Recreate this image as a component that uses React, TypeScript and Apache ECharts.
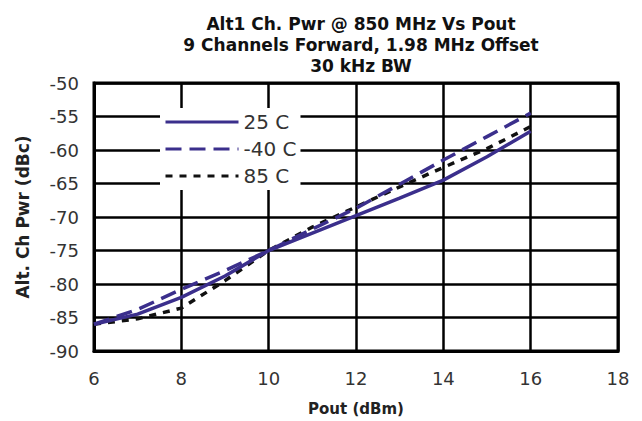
import React, { useEffect, useRef } from "react";
import * as echarts from "echarts";

const titleLines = [
  "Alt1 Ch. Pwr @ 850 MHz Vs Pout",
  "9 Channels Forward, 1.98 MHz Offset",
  "30 kHz BW",
];
const xAxisName = "Pout (dBm)";
const yAxisName = "Alt. Ch Pwr (dBc)";
const seriesNames = ["25 C", "-40 C", "85 C"];

const poutDbm = [6, 7, 8, 9, 10, 11, 12, 13, 14, 15, 16];
const pwr25C = [-86, -84.5, -82, -78.8, -75, -72.4, -69.8, -67.2, -64.5, -61, -57.2];
const pwrM40C = [-86, -83.8, -80.8, -78, -75, -71.8, -68.7, -65.1, -61.5, -58, -54.5];
const pwr85C = [-86, -85.2, -83.6, -79.5, -75, -71.5, -68.5, -65.5, -62.6, -59.8, -56.5];

const FONT = "DejaVu Sans";
const BLUE = "#3b2f8c";

export default function App() {
  const ref = useRef<HTMLDivElement>(null);

  useEffect(() => {
    if (!ref.current) return;
    const chart = echarts.init(ref.current, undefined, { renderer: "svg" });
    const pair = (ys: number[]) => poutDbm.map((x, i) => [x, ys[i]]);

    chart.setOption({
      animation: false,
      backgroundColor: "#fff",
      title: {
        text: titleLines.join("\n"),
        left: 356,
        top: 8,
        textAlign: "center",
        textStyle: {
          fontFamily: FONT,
          fontSize: 17,
          fontWeight: "bold",
          lineHeight: 21,
          color: "#111",
        },
      },
      legend: {
        data: seriesNames,
        orient: "vertical",
        left: 160,
        top: 108,
        padding: 4,
        itemGap: 7,
        itemWidth: 73,
        itemHeight: 20,
        backgroundColor: "#fff",
        selectedMode: false,
        itemStyle: { opacity: 0 },
        lineStyle: { width: 3 },
        textStyle: { fontFamily: FONT, fontSize: 20, color: "#333" },
      },
      grid: {
        left: 94,
        right: 24,
        top: 83,
        bottom: 69,
        show: true,
        borderColor: "#000",
        borderWidth: 3,
      },
      xAxis: {
        type: "value",
        min: 6,
        max: 18,
        interval: 2,
        name: xAxisName,
        nameLocation: "middle",
        nameGap: 50,
        nameTextStyle: { fontFamily: FONT, fontSize: 15, fontWeight: "bold", color: "#222" },
        axisLine: { show: true, lineStyle: { color: "#000", width: 3 } },
        axisTick: { show: false },
        axisLabel: { fontFamily: FONT, fontSize: 18, color: "#333", margin: 18 },
        splitLine: { show: true, lineStyle: { color: "#000", width: 2.5 } },
      },
      yAxis: {
        type: "value",
        min: -90,
        max: -50,
        interval: 5,
        name: yAxisName,
        nameLocation: "middle",
        nameGap: 63,
        nameTextStyle: { fontFamily: FONT, fontSize: 17, fontWeight: "bold", color: "#222" },
        axisLine: { show: true, lineStyle: { color: "#000", width: 3 } },
        axisTick: { show: false },
        axisLabel: { fontFamily: FONT, fontSize: 18, color: "#333", margin: 15 },
        splitLine: { show: true, lineStyle: { color: "#000", width: 2.5 } },
      },
      series: [
        {
          name: seriesNames[0],
          type: "line",
          data: pair(pwr25C),
          symbol: "none",
          color: BLUE,
          lineStyle: { color: BLUE, width: 3.5, type: "solid" },
          z: 5,
        },
        {
          name: seriesNames[1],
          type: "line",
          data: pair(pwrM40C),
          symbol: "none",
          color: BLUE,
          lineStyle: { color: BLUE, width: 3.5, type: [16, 8] },
          z: 5,
        },
        {
          name: seriesNames[2],
          type: "line",
          data: pair(pwr85C),
          symbol: "none",
          color: "#111",
          lineStyle: { color: "#111", width: 3.5, type: [7, 7] },
          z: 4,
        },
      ],
    });

    return () => chart.dispose();
  }, []);

  return (
    <div
      ref={ref}
      style={{ position: "fixed", left: 0, top: 0, width: 642, height: 421 }}
    />
  );
}
